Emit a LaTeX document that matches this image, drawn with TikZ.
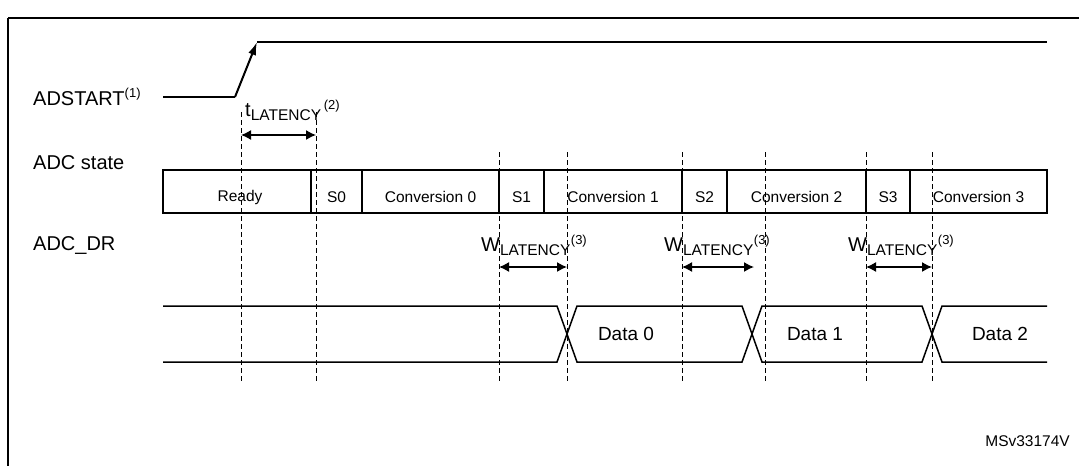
\documentclass[tikz,border=0pt]{standalone}
\usepackage{fontspec}
\setmainfont{Liberation Sans}
\usetikzlibrary{arrows.meta}
\begin{document}
\begin{tikzpicture}[x=1pt,y=-1pt,
  sig/.style={line width=2pt},
  thin/.style={line width=1.5pt},
  dsh/.style={line width=0.8pt,dash pattern=on 5pt off 3pt},
  dim/.style={line width=1.4pt,{Latex[length=10pt,width=10pt]}-{Latex[length=10pt,width=10pt]}},
  lab/.style={font=\fontsize{20}{22}\selectfont,anchor=west,inner sep=0pt},
  st/.style={font=\fontsize{15.5}{17}\selectfont,inner sep=0pt}]
\useasboundingbox (0,0) rectangle (1079,466);
\draw[line width=1.2pt] (8,18) -- (1079,18);
\draw[line width=1.2pt] (8,18) -- (8,466);
% labels
\node[lab] (l1) at (33,97) {ADSTART\textsuperscript{\fontsize{13}{14}\selectfont(1)}};
\node[lab] (l2) at (33,163) {ADC state};
\node[lab] (l3) at (33,246) {ADC\_DR};
% ADSTART
\coordinate (a0) at (163,97); \coordinate (a1) at (235,97);
\coordinate (a2) at (257,42); \coordinate (a3) at (1047,42);
\draw[sig] (a0) -- (a1);
\draw[sig,-{Latex[length=13pt,width=8pt]}] (a1) -- (a2);
\draw[sig] (a2) -- (a3);
% dashed verticals
\foreach \x/\t/\b in {241/112/382,316/112/382,499/152/382,567/152/382,682/152/382,765/152/382,866/152/382,932/152/382}
  \draw[dsh] (\x,\t) -- (\x,\b);
% state box
\draw[thin] (163,170) rectangle (1047,213);
\foreach \x in {311,362,499,544,682,727,866,910}
  \draw[thin] (\x,170) -- (\x,213);
\node[st] (s1) at (240,197) {Ready};
\node[st] (s2) at (336.5,197) {S0};
\node[st] (s3) at (430.5,197) {Conversion 0};
\node[st] (s4) at (521.5,197) {S1};
\node[st] (s5) at (613,197) {Conversion 1};
\node[st] (s6) at (704.5,197) {S2};
\node[st] (s7) at (796.5,197) {Conversion 2};
\node[st] (s8) at (888,197) {S3};
\node[st] (s9) at (978.5,197) {Conversion 3};
% latencies
\coordinate (t0) at (241,135); \coordinate (t1) at (316,135);
\draw[dim] (t0) -- (t1);
\node[lab] (tl) at (245,110) {t\textsubscript{\fontsize{15.5}{17}\selectfont LATENCY}\textsuperscript{\fontsize{13}{14}\selectfont\,(2)}};
\foreach \a/\b/\n in {499/567/w1,682/754/w2,866/932/w3}{
  \coordinate (\n a) at (\a,267); \coordinate (\n b) at (\b,267);
  \draw[dim] (\n a) -- (\n b);
  \node[lab] (\n l) at (\a-18,245) {W\textsubscript{\fontsize{15.5}{17}\selectfont LATENCY}\textsuperscript{\fontsize{13}{14}\selectfont(3)}};
}
% data bus
\draw[thin] (163,306) -- (557,306) -- (567,334) -- (577,362) -- (742,362) -- (752,334) -- (762,306) -- (922,306) -- (932,334) -- (942,362) -- (1047,362);
\draw[thin] (163,362) -- (557,362) -- (567,334) -- (577,306) -- (742,306) -- (752,334) -- (762,362) -- (922,362) -- (932,334) -- (942,306) -- (1047,306);
\node[st,font=\fontsize{19}{21}\selectfont] (d0) at (626,334) {Data 0};
\node[st,font=\fontsize{19}{21}\selectfont] (d1) at (815,334) {Data 1};
\node[st,font=\fontsize{19}{21}\selectfont] (d2) at (1000,334) {Data 2};
\node[st,anchor=east] (ms) at (1070,441) {MSv33174V};
\end{tikzpicture}
\end{document}
